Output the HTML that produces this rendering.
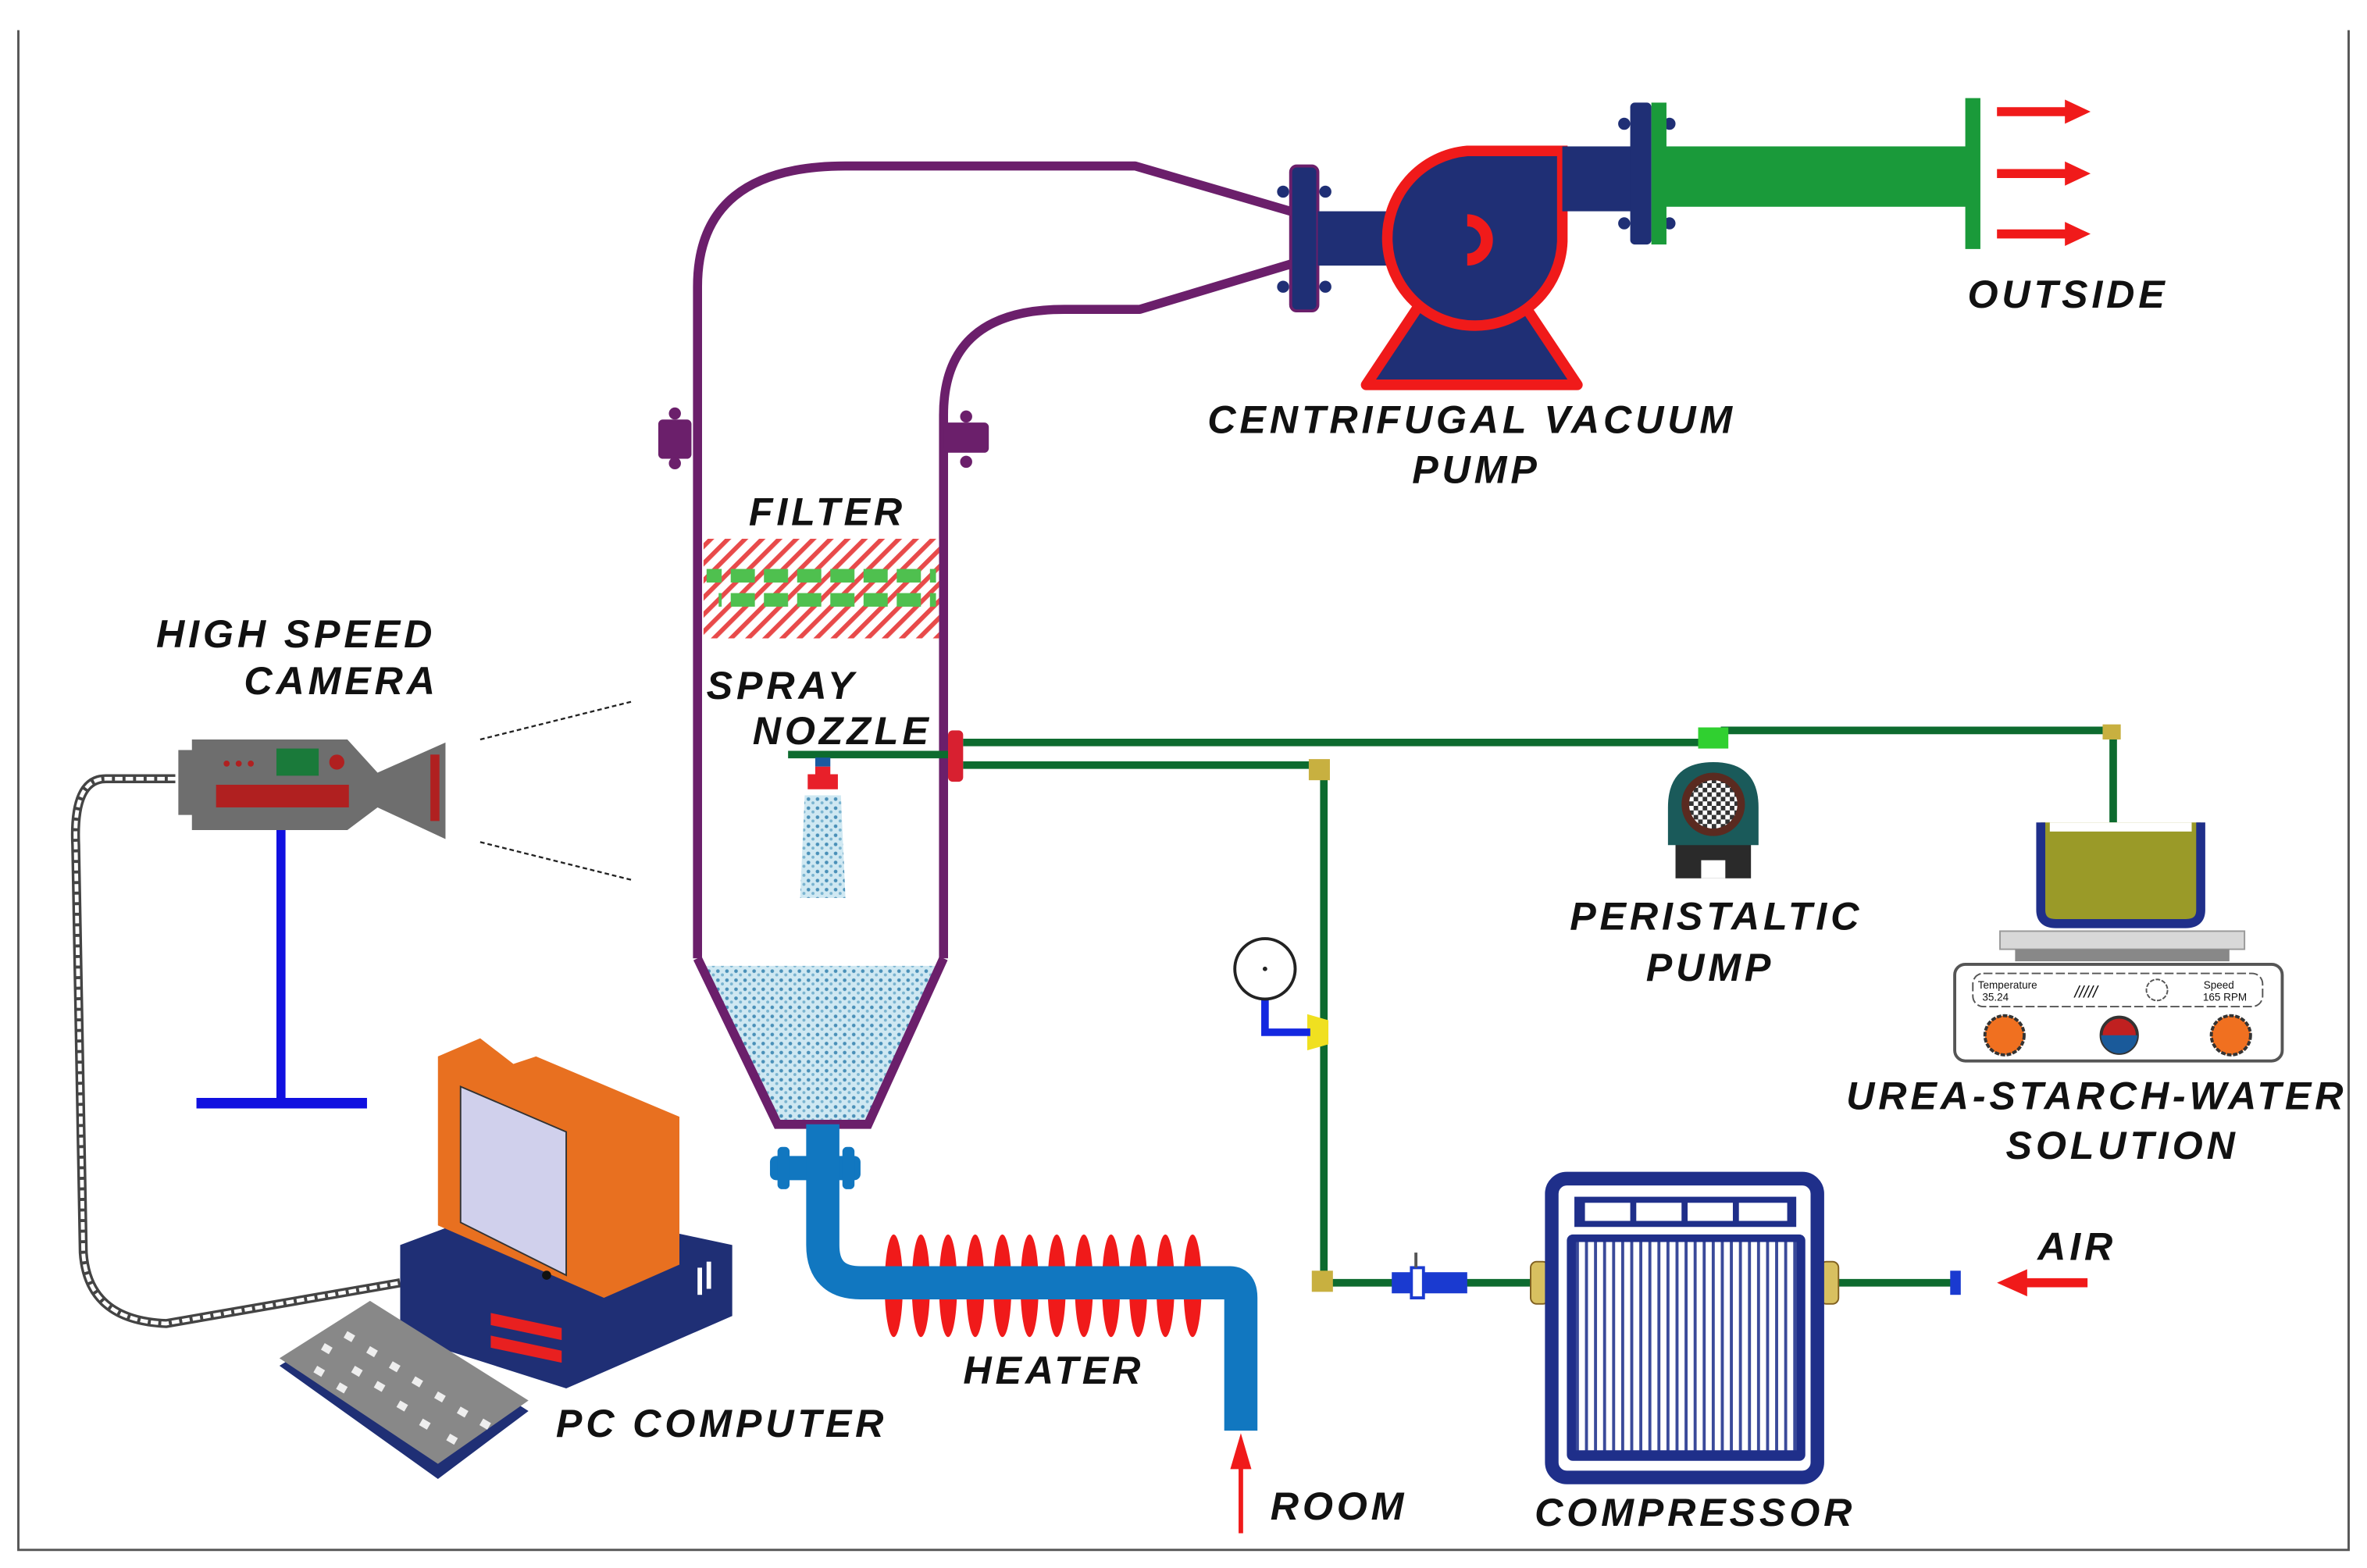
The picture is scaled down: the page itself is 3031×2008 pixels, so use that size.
<!DOCTYPE html>
<html><head><meta charset="utf-8"><style>
html,body{margin:0;padding:0;background:#fff}
svg{display:block}
text{font-family:"Liberation Sans",sans-serif;font-weight:bold;font-style:italic;fill:#111;font-size:26px;text-anchor:middle;letter-spacing:2.5px}
text.s{letter-spacing:0}
</style></head><body>
<svg width="3031" height="2008" viewBox="0 0 1568 1039" xmlns="http://www.w3.org/2000/svg">
<defs>
<pattern id="hatch" width="8" height="8" patternUnits="userSpaceOnUse" patternTransform="rotate(45)"><rect width="8" height="8" fill="#fff"/><rect width="3" height="8" fill="#e84a4a"/></pattern>
<pattern id="dots" width="6" height="6" patternUnits="userSpaceOnUse"><rect width="6" height="6" fill="#cfe8f2"/><circle cx="1.5" cy="1.5" r="1.2" fill="#4a90b8"/><circle cx="4.5" cy="4" r="1" fill="#7ab4d0"/></pattern>
<pattern id="grill" width="6" height="10" patternUnits="userSpaceOnUse"><rect width="6" height="10" fill="#fff"/><rect width="2" height="10" fill="#3a4a9a"/></pattern>
<pattern id="check" width="6" height="6" patternUnits="userSpaceOnUse"><rect width="6" height="6" fill="#fff"/><rect width="3" height="3" fill="#333"/><rect x="3" y="3" width="3" height="3" fill="#333"/></pattern>
<pattern id="gdash" width="22" height="8" patternUnits="userSpaceOnUse"><rect width="16" height="8" fill="#4fc04f"/></pattern>
</defs>
<path d="M12 20 V1027 H1556 V20" fill="none" stroke="#555" stroke-width="1.5"/>

<g fill="none" stroke="#6b1f6b" stroke-width="6" stroke-linejoin="round">
<path d="M462 635 V190 Q462 110 560 110 H752 L855 140"/>
<path d="M625 635 V275 Q625 205 705 205 H755 L855 175"/>
</g>
<path d="M465 640 H622 L573 743 H515 Z" fill="url(#dots)"/>
<path d="M462 635 L515 745 H575 L625 635" fill="none" stroke="#6b1f6b" stroke-width="6"/>
<rect x="436" y="278" width="22" height="26" rx="3" fill="#6b1f6b"/>
<rect x="625" y="280" width="30" height="20" rx="3" fill="#6b1f6b"/>
<circle cx="447" cy="274" r="4" fill="#6b1f6b"/><circle cx="447" cy="307" r="4" fill="#6b1f6b"/>
<circle cx="640" cy="276" r="4" fill="#6b1f6b"/><circle cx="640" cy="306" r="4" fill="#6b1f6b"/>
<rect x="466" y="357" width="156" height="66" fill="url(#hatch)"/>
<rect x="468" y="377" width="152" height="9" fill="url(#gdash)"/>
<rect x="476" y="393" width="144" height="9" fill="url(#gdash)"/>
<text x="548" y="348">FILTER</text>
<text x="518" y="463">SPRAY</text>
<text x="558" y="493">NOZZLE</text>
<line x1="522" y1="500" x2="628" y2="500" stroke="#0d6b2f" stroke-width="5"/>
<rect x="540" y="502" width="10" height="6" fill="#1a5aa0"/>
<path d="M540 508 H550 V513 H555 V523 H535 V513 H540 Z" fill="#e8202a"/>
<path d="M533 527 H557 L560 595 H530 Z" fill="url(#dots)"/>
<rect x="628" y="484" width="10" height="34" rx="3" fill="#d82030"/>

<rect x="855" y="110" width="18" height="96" rx="4" fill="#1f2f75" stroke="#6b1f6b" stroke-width="2"/>
<circle cx="850" cy="127" r="4" fill="#1f2f75"/><circle cx="878" cy="127" r="4" fill="#1f2f75"/><circle cx="850" cy="190" r="4" fill="#1f2f75"/><circle cx="878" cy="190" r="4" fill="#1f2f75"/>
<rect x="873" y="140" width="55" height="36" fill="#1f2f75"/>
<path d="M905 255 L945 195 H1005 L1045 255 Z" fill="#1f2f75" stroke="#f01a1a" stroke-width="7" stroke-linejoin="round"/>
<path d="M972 100 H1035 V160 A58 58 0 1 1 972 100 Z" fill="#1f2f75" stroke="#f01a1a" stroke-width="7"/>
<path d="M972 146 A13 13 0 1 1 972 172" fill="none" stroke="#f01a1a" stroke-width="8"/>
<rect x="1035" y="97" width="50" height="43" fill="#1f2f75"/>
<rect x="1080" y="68" width="14" height="94" rx="3" fill="#1f2f75"/>
<circle cx="1076" cy="82" r="4" fill="#1f2f75"/><circle cx="1076" cy="148" r="4" fill="#1f2f75"/><circle cx="1106" cy="82" r="4" fill="#1f2f75"/><circle cx="1106" cy="148" r="4" fill="#1f2f75"/>
<rect x="1094" y="68" width="10" height="94" fill="#1a9a3a"/>
<rect x="1100" y="97" width="205" height="40" fill="#1a9a3a"/>
<rect x="1302" y="65" width="10" height="100" fill="#1a9a3a"/>
<g fill="#f01a1a">
<path d="M1323 71 H1368 V66 L1385 74 L1368 82 V77 H1323 Z"/>
<path d="M1323 112 H1368 V107 L1385 115 L1368 123 V118 H1323 Z"/>
<path d="M1323 152 H1368 V147 L1385 155 L1368 163 V158 H1323 Z"/>
</g>
<text x="1370" y="204">OUTSIDE</text>
<text x="975" y="287">CENTRIFUGAL VACUUM</text>
<text x="978" y="320">PUMP</text>

<g fill="none" stroke="#0d6b2f" stroke-width="5">
<path d="M638 492 H1135"/>
<path d="M1140 484 H1400 V545"/>
<path d="M638 507 H877 V850 H1020"/>
<path d="M1215 850 H1295"/>
</g>
<rect x="867" y="503" width="14" height="14" fill="#c8b040"/>
<rect x="869" y="842" width="14" height="14" fill="#c8b040"/>
<rect x="1393" y="480" width="12" height="10" fill="#c8b040"/>
<path d="M866 672 L880 676 V692 L866 696 Z" fill="#f0e020"/>
<rect x="1125" y="482" width="20" height="14" fill="#30d030"/>
<path d="M838 662 V684 H868" fill="none" stroke="#1428e0" stroke-width="5"/>
<circle cx="838" cy="642" r="20" fill="#fff" stroke="#222" stroke-width="2"/>
<circle cx="838" cy="642" r="1.5" fill="#222"/>
<rect x="922" y="843" width="50" height="14" fill="#1a3ad0"/>
<rect x="935" y="840" width="8" height="20" fill="#fff" stroke="#1a3ad0" stroke-width="2"/>
<line x1="938" y1="840" x2="938" y2="830" stroke="#555" stroke-width="2"/>
<rect x="1014" y="836" width="12" height="28" rx="4" fill="#d8c060" stroke="#806020" stroke-width="1"/>
<rect x="1206" y="836" width="12" height="28" rx="4" fill="#d8c060" stroke="#806020" stroke-width="1"/>
<rect x="1028" y="781" width="176" height="198" rx="10" fill="#fff" stroke="#1f2f8a" stroke-width="9"/>
<rect x="1043" y="793" width="147" height="20" fill="#1f2f8a"/>
<g fill="#fff"><rect x="1050" y="797" width="30" height="12"/><rect x="1084" y="797" width="30" height="12"/><rect x="1118" y="797" width="30" height="12"/><rect x="1152" y="797" width="32" height="12"/></g>
<rect x="1038" y="818" width="158" height="150" rx="4" fill="#1f2f8a"/>
<rect x="1044" y="823" width="146" height="138" fill="url(#grill)"/>
<rect x="1292" y="842" width="7" height="16" fill="#1a3ad0"/>
<path d="M1383 847 H1343 V841 L1323 850 L1343 859 V853 H1383 Z" fill="#f01a1a"/>
<text x="1376" y="835">AIR</text>
<text x="1123" y="1011">COMPRESSOR</text>

<rect x="1110" y="558" width="50" height="24" fill="#2a2a2a"/>
<rect x="1127" y="570" width="16" height="12" fill="#fff"/>
<path d="M1105 535 Q1105 505 1135 505 Q1165 505 1165 535 V560 H1105 Z" fill="#1a5a5a"/>
<circle cx="1135" cy="533" r="21" fill="#5a2a20"/>
<circle cx="1135" cy="533" r="16" fill="url(#check)"/>
<text x="1137" y="616">PERISTALTIC</text>
<text x="1133" y="650">PUMP</text>
<path d="M1352 545 V603 Q1352 612 1362 612 H1448 Q1458 612 1458 603 V545" fill="#9a9a28" stroke="#1f2f8a" stroke-width="6"/>
<rect x="1358" y="545" width="94" height="6" fill="#fff"/>
<rect x="1325" y="617" width="162" height="12" fill="#d8d8d8" stroke="#999" stroke-width="1"/>
<rect x="1335" y="629" width="142" height="8" fill="#888"/>
<rect x="1295" y="639" width="217" height="64" rx="7" fill="#fff" stroke="#555" stroke-width="2"/>
<rect x="1307" y="645" width="192" height="22" rx="7" fill="none" stroke="#555" stroke-width="1" stroke-dasharray="6 2"/>
<text class="s" x="1330" y="655" style="font-size:7px;font-style:normal;font-weight:normal">Temperature</text>
<text class="s" x="1322" y="663" style="font-size:7px;font-style:normal;font-weight:normal">35.24</text>
<text class="s" x="1382" y="661" style="font-size:11px;font-weight:normal">/////</text>
<text class="s" x="1470" y="655" style="font-size:7px;font-style:normal;font-weight:normal">Speed</text>
<text class="s" x="1474" y="663" style="font-size:7px;font-style:normal;font-weight:normal">165 RPM</text>
<circle cx="1429" cy="656" r="7" fill="none" stroke="#555" stroke-width="1" stroke-dasharray="3 1"/>
<circle cx="1328" cy="686" r="13" fill="#f07020" stroke="#333" stroke-width="2" stroke-dasharray="3 1"/>
<circle cx="1404" cy="686" r="12" fill="#c02020" stroke="#333" stroke-width="2"/>
<path d="M1392 686 A12 12 0 0 0 1416 686 Z" fill="#1a5a9a"/>
<circle cx="1478" cy="686" r="13" fill="#f07020" stroke="#333" stroke-width="2" stroke-dasharray="3 1"/>
<text x="1389" y="735">UREA-STARCH-WATER</text>
<text x="1406" y="768">SOLUTION</text>

<path d="M118 497 H127 V490 H230 L250 512 L295 492 V556 L250 535 L230 550 H127 V540 H118 Z" fill="#6e6e6e"/>
<rect x="183" y="496" width="28" height="18" fill="#1a7a3a"/>
<circle cx="223" cy="505" r="5" fill="#b02020"/>
<g fill="#b02020"><circle cx="150" cy="506" r="2"/><circle cx="158" cy="506" r="2"/><circle cx="166" cy="506" r="2"/></g>
<rect x="143" y="520" width="88" height="15" fill="#b02020"/>
<rect x="285" y="500" width="6" height="44" fill="#b02020"/>
<line x1="186" y1="550" x2="186" y2="730" stroke="#1010e0" stroke-width="6"/>
<line x1="130" y1="731" x2="243" y2="731" stroke="#1010e0" stroke-width="7"/>
<line x1="318" y1="490" x2="418" y2="465" stroke="#222" stroke-width="1.2" stroke-dasharray="3 2"/>
<line x1="318" y1="558" x2="418" y2="583" stroke="#222" stroke-width="1.2" stroke-dasharray="3 2"/>
<path d="M116 516 H70 Q48 516 50 560 L55 830 Q58 875 110 877 L265 850" fill="none" stroke="#444" stroke-width="6"/>
<path d="M116 516 H70 Q48 516 50 560 L55 830 Q58 875 110 877 L265 850" fill="none" stroke="#fff" stroke-width="2.5" stroke-dasharray="5 2"/>
<text x="196" y="429">HIGH SPEED</text>
<text x="226" y="460">CAMERA</text>

<path d="M265 825 L345 795 L485 825 V872 L375 920 L265 885 Z" fill="#1f2f75"/>
<path d="M290 700 L318 688 L340 705 L355 700 L450 740 V838 L400 860 L290 812 Z" fill="#e87020"/>
<path d="M305 720 L375 750 V845 L305 810 Z" fill="#d0d0ec" stroke="#333" stroke-width="1"/>
<circle cx="362" cy="845" r="3" fill="#111"/>
<rect x="462" y="840" width="3" height="18" fill="#fff"/><rect x="468" y="836" width="3" height="18" fill="#fff"/>
<path d="M325 870 L372 880 V888 L325 878 Z M325 885 L372 895 V903 L325 893 Z" fill="#e82020"/>
<path d="M185 905 L245 868 L350 935 L290 980 Z" fill="#1f2f75"/>
<path d="M185 900 L245 862 L350 928 L290 970 Z" fill="#888"/>
<g fill="#eee">
<rect x="215" y="890" width="6" height="5" transform="rotate(30 215 890)"/>
<rect x="230" y="882" width="6" height="5" transform="rotate(30 230 882)"/>
<rect x="245" y="892" width="6" height="5" transform="rotate(30 245 892)"/>
<rect x="260" y="902" width="6" height="5" transform="rotate(30 260 902)"/>
<rect x="235" y="905" width="6" height="5" transform="rotate(30 235 905)"/>
<rect x="250" y="915" width="6" height="5" transform="rotate(30 250 915)"/>
<rect x="275" y="912" width="6" height="5" transform="rotate(30 275 912)"/>
<rect x="290" y="922" width="6" height="5" transform="rotate(30 290 922)"/>
<rect x="265" y="928" width="6" height="5" transform="rotate(30 265 928)"/>
<rect x="305" y="932" width="6" height="5" transform="rotate(30 305 932)"/>
<rect x="280" y="940" width="6" height="5" transform="rotate(30 280 940)"/>
<rect x="320" y="940" width="6" height="5" transform="rotate(30 320 940)"/>
<rect x="210" y="905" width="6" height="5" transform="rotate(30 210 905)"/>
<rect x="225" y="916" width="6" height="5" transform="rotate(30 225 916)"/>
<rect x="298" y="950" width="6" height="5" transform="rotate(30 298 950)"/>
</g>
<text x="478" y="952">PC COMPUTER</text>

<rect x="510" y="766" width="60" height="16" rx="4" fill="#1177c0"/>
<rect x="515" y="760" width="8" height="28" rx="3" fill="#1177c0"/><rect x="558" y="760" width="8" height="28" rx="3" fill="#1177c0"/>
<g fill="#f01a1a">
<ellipse cx="592" cy="852" rx="6" ry="34"/><ellipse cx="610" cy="852" rx="6" ry="34"/><ellipse cx="628" cy="852" rx="6" ry="34"/><ellipse cx="646" cy="852" rx="6" ry="34"/><ellipse cx="664" cy="852" rx="6" ry="34"/><ellipse cx="682" cy="852" rx="6" ry="34"/><ellipse cx="700" cy="852" rx="6" ry="34"/><ellipse cx="718" cy="852" rx="6" ry="34"/><ellipse cx="736" cy="852" rx="6" ry="34"/><ellipse cx="754" cy="852" rx="6" ry="34"/><ellipse cx="772" cy="852" rx="6" ry="34"/><ellipse cx="790" cy="852" rx="6" ry="34"/>
</g>
<path d="M545 745 V825 Q545 850 570 850 H815 Q822 850 822 860 V948" fill="none" stroke="#1177c0" stroke-width="22"/>
<path d="M822 1016 V972 H817 L822 955 L827 972 H822" fill="#f01a1a" stroke="#f01a1a" stroke-width="3"/>
<text x="698" y="917">HEATER</text>
<text x="887" y="1007">ROOM</text>
</svg>
</body></html>
